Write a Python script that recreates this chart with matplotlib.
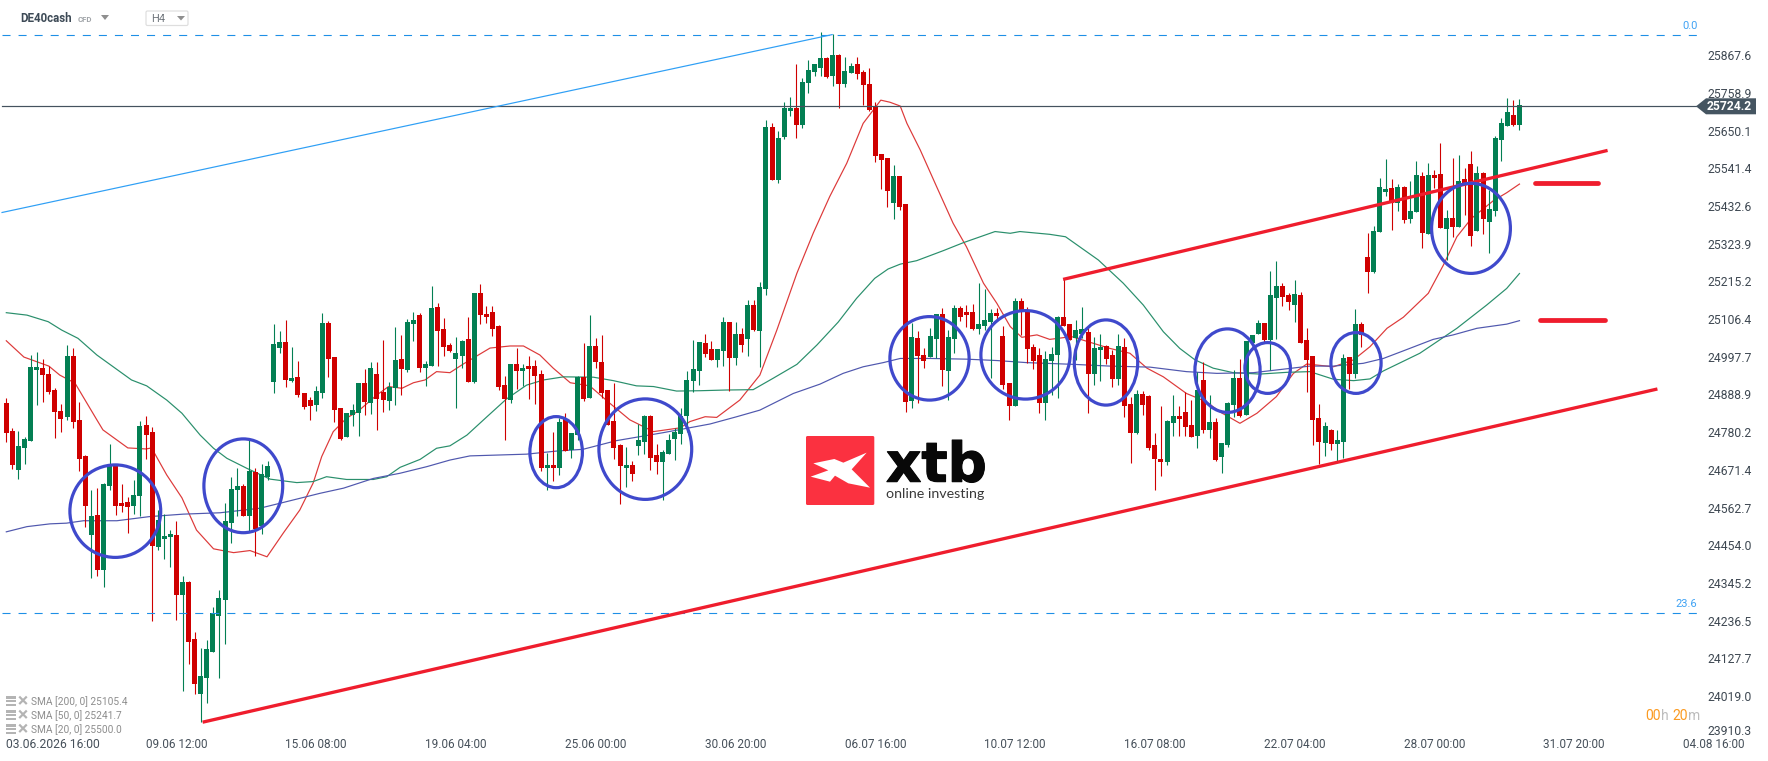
import matplotlib
matplotlib.use("Agg")
import matplotlib.pyplot as plt
import matplotlib.patheffects as pe
from matplotlib.collections import LineCollection
from matplotlib.patches import Ellipse, FancyBboxPatch, Polygon, Rectangle

# Four-hour DE40 candles
highs = [
    24883,24796,24788,24771,25007,25016,24995,24975,24912,24866,
    25036,25027,24872,24719,24618,24624,24638,24750,24693,24635,
    24597,24647,24817,24831,24799,24560,24548,24502,24528,24370,
    24355,24208,24162,24185,24280,24329,24580,24655,24681,24635,
    24762,24681,24693,24701,25096,25076,25108,25030,24990,24898,
    24886,24918,25128,25105,25001,24854,24840,24866,24927,24967,
    24987,24987,25050,24929,25088,25065,25111,25131,25128,24990,
    25206,25157,25114,25042,25059,25050,25117,25186,25212,25148,
    25148,25094,24947,24981,25027,24981,25004,24993,24964,24724,
    24785,24825,24840,24782,24947,25042,25122,25056,25065,24906,
    24926,24750,24742,24701,24808,24834,24834,24750,24733,24779,
    24796,24854,24961,25050,25045,25068,25047,25024,25117,25102,
    25102,25085,25166,25166,25218,25685,25676,25653,25737,25751,
    25846,25806,25858,25846,25938,25866,25933,25875,25866,25849,
    25866,25829,25835,25737,25587,25575,25555,25523,25443,25100,
    25076,25027,25085,25125,25143,25079,25151,25148,25151,25154,
    25215,25197,25140,25143,25091,24926,25171,25171,25146,25039,
    25027,25019,25030,25120,25226,25097,25108,25145,25085,25059,
    25068,25036,25021,25068,25056,24886,24906,24903,24892,24782,
    24860,24820,24892,24860,24900,24877,24958,24987,24892,24825,
    24753,24872,24964,24996,25047,25065,25108,25099,25249,25278,
    25215,25186,25223,25189,25085,25003,24866,24814,24794,24791,
    25010,25001,25140,25102,25359,25379,25518,25572,25515,25500,
    25495,25509,25567,25535,25561,25541,25618,25425,25575,25584,
    25546,25595,25552,25535,25483,25639,25690,25748,25742,25745,
]
body_tops = [
    24869,24788,24745,24765,24973,24973,24970,24952,24906,24846,
    25004,25004,24820,24716,24543,24545,24635,24687,24687,24580,
    24583,24603,24802,24805,24785,24531,24485,24491,24488,24352,
    24352,24188,24081,24159,24263,24306,24528,24620,24629,24629,
    24672,24670,24664,24687,25039,25045,25045,24941,24944,24898,
    24877,24903,25099,25099,25001,24854,24840,24848,24927,24927,
    24970,24952,24900,24915,24993,24996,25102,25108,25122,24981,
    25143,25146,25082,25036,25013,25047,25053,25186,25186,25125,
    25131,25091,24921,24981,24981,24970,24975,24975,24952,24690,
    24690,24814,24823,24782,24944,24944,25033,25033,24987,24906,
    24817,24748,24690,24690,24762,24831,24831,24719,24727,24762,
    24785,24831,24935,24967,25045,25042,25024,25024,25102,25102,
    25068,25068,25151,25151,25203,25665,25665,25633,25719,25719,
    25719,25794,25829,25846,25864,25864,25872,25872,25826,25840,
    25846,25823,25789,25722,25587,25575,25523,25523,25443,25059,
    25056,25007,25062,25125,25125,25059,25143,25143,25131,25131,
    25097,25108,25128,25128,25062,24926,25163,25163,25131,25030,
    25007,24996,25010,25117,25117,25097,25079,25082,25073,25027,
    25030,25033,25007,25033,25030,24866,24895,24895,24889,24748,
    24707,24817,24831,24831,24843,24805,24906,24935,24814,24814,
    24753,24869,24941,24941,25047,25065,25099,25099,25180,25206,
    25206,25180,25183,25180,25050,25003,24825,24802,24791,24762,
    24999,25001,25097,25097,25290,25365,25492,25486,25489,25492,
    25492,25422,25526,25523,25526,25526,25529,25402,25402,25509,
    25515,25558,25532,25532,25428,25633,25676,25708,25699,25728,
]
body_bottoms = [
    24782,24690,24675,24739,24759,24964,24950,24900,24843,24823,
    24828,24814,24707,24572,24488,24387,24387,24629,24572,24572,
    24569,24572,24600,24776,24456,24453,24476,24482,24315,24315,
    24180,24058,24029,24075,24150,24254,24300,24523,24618,24543,
    24543,24505,24514,24655,24929,25027,24935,24932,24892,24857,
    24860,24863,24898,24996,24848,24765,24771,24834,24840,24872,
    24869,24880,24877,24874,24912,24967,24964,25097,24970,24970,
    24975,25076,25030,25019,24996,25004,24929,24929,25122,25117,
    25082,24915,24880,24877,24961,24961,24967,24947,24681,24681,
    24681,24681,24730,24733,24776,24880,24883,24987,24898,24805,
    24739,24687,24681,24664,24745,24756,24710,24699,24699,24722,
    24765,24779,24831,24932,24961,25010,24993,24993,25019,24998,
    24998,25036,25053,25079,25076,25197,25512,25512,25636,25711,
    25670,25670,25791,25823,25835,25809,25812,25789,25789,25820,
    25817,25786,25714,25581,25569,25480,25446,25434,24872,24874,
    25004,24990,25001,25053,24964,24961,25053,25117,25122,25082,
    25082,25091,25102,25120,24921,24860,24860,25137,25024,24990,
    24869,24869,24990,25007,25091,25050,25056,25068,24952,24952,
    25021,24996,24938,24938,24860,24782,24782,24863,24739,24707,
    24699,24699,24811,24823,24799,24771,24774,24791,24791,24704,
    24713,24748,24863,24831,24834,25042,25068,25050,25050,25171,
    25174,25160,25151,25042,24993,24820,24756,24753,24750,24750,
    24756,24952,24952,25065,25247,25247,25362,25477,25446,25446,
    25396,25399,25419,25359,25356,25518,25373,25370,25376,25376,
    25497,25350,25365,25399,25391,25422,25627,25667,25670,25670,
]
lows = [
    24756,24678,24649,24693,24759,24863,24872,24895,24768,24785,
    24820,24796,24672,24511,24364,24370,24338,24618,24545,24554,
    24494,24548,24543,24707,24240,24445,24419,24396,24243,24038,
    24116,24029,23948,24003,24150,24075,24174,24465,24543,24543,
    24500,24427,24491,24647,24898,25013,24915,24929,24886,24851,
    24820,24846,24883,24944,24814,24762,24771,24802,24774,24834,
    24837,24791,24843,24848,24863,24892,24958,25048,24958,24918,
    24975,24975,25004,25016,24854,24970,24929,24927,25097,25100,
    25062,24906,24762,24869,24909,24918,24880,24866,24672,24618,
    24644,24661,24730,24710,24762,24874,24883,24970,24883,24805,
    24707,24577,24626,24644,24719,24722,24675,24664,24589,24722,
    24704,24750,24785,24900,24921,25001,24993,24972,24975,24903,
    24978,25016,25004,25076,24972,25180,25512,25503,25630,25696,
    25633,25662,25763,25812,25812,25806,25783,25719,25780,25820,
    25803,25728,25711,25564,25486,25434,25399,25425,24843,24854,
    24869,24970,25001,24998,24918,24877,25013,25105,25088,25079,
    25068,25079,24941,25108,24909,24820,24860,25065,24984,24967,
    24840,24820,24892,24883,25091,25050,24993,25056,24840,24921,
    24932,24981,24915,24921,24828,24696,24779,24834,24733,24618,
    24658,24690,24774,24774,24774,24771,24739,24782,24768,24701,
    24667,24742,24828,24828,24834,25042,25068,25045,24964,25053,
    25148,25137,25102,25042,24900,24748,24693,24716,24733,24701,
    24710,24909,24941,25030,25186,25244,25362,25466,25368,25422,
    25388,25388,25419,25316,25356,25489,25373,25281,25347,25376,
    25411,25321,25365,25356,25301,25408,25566,25667,25667,25656,
]
# g = rising candle, r = falling candle
candle_sides = (
    "rrggggrrrr" "grrrgrggrr" "rggrrgggrg" "rrgggggggr" "grggggrgrr"
    "rggrrrgggr" "grrggrggrg" "grrrggrgrr" "rrrgrgrrrg" "rgrggrgrrr"
    "rrgrggrrgg" "gggggrrggr" "grgrggrggg" "rggggrgrgg" "rrrrrrgrrg"
    "rrggrggrrr" "gggrrrgrrr" "rgggrrggrg" "grrgrrgrrr" "rggrrrgrgr"
    "gggrgggrgg" "rrgrrrrgrg" "grgrrgggrg" "rggrgrrgrg" "rrgrggggrg"
)

# Moving averages, sampled at bar positions
sma20_bars = [
    0,2.9,7,8.8,11.3,14.9,15.9,20,23,23.9,26.4,28.9,31.3,34.1,37.4,40.1,42.9,45.6,48.3,50.5,
    51.9,53.8,56,57.9,61,62.9,65.1,67,68.9,70.8,73,75.2,77.4,79.6,82.9,85.1,87.8,90,92.8,96,
    99.3,102.6,106.5,110.9,112.5,115,116.9,120.7,124,126.8,130.1,132.8,135.5,138.3,141,143.9,
    145.4,147.1,148.2,150.4,153.1,155.8,158,160.8,163,165.2,167.1,169.6,171.7,175.3,181.6,
    184.9,187.7,190.4,194.2,197.5,199.7,203,205.8,209,211.8,214,218.4,221.7,224.4,227.2,229.9,
    234,236.5,238.7,241.1,244.7,246.9,249,
]
sma20_values = [
    25048,25001,24975,24949,24926,24820,24791,24739,24736,24739,24661,24595,24502,24448,24437,
    24443,24425,24494,24560,24638,24714,24786,24825,24845,24892,24916,24911,24927,24935,24959,
    24956,24981,25004,25027,25033,25033,25007,24969,24927,24918,24868,24820,24786,24797,24815,
    24829,24827,24877,24949,25079,25243,25359,25464,25560,25675,25742,25736,25725,25675,25598,
    25492,25387,25319,25214,25156,25089,25058,25065,25052,25060,25026,25012,24969,24944,24896,
    24872,24843,24810,24839,24887,24954,24981,24973,24993,25031,25084,25116,25185,25267,25348,
    25401,25452,25475,25500,
]
sma50_bars = [
    0,3.4,6.9,9.1,11.8,14.9,20.6,23.1,26.4,28.9,31.9,34.1,36.3,39.6,43.4,47.8,50.5,52.7,56,60.4,
    62.6,64.8,68.1,70.8,73,75.8,79.1,82.3,85.6,88.4,91.7,96.6,99.9,103.7,106.5,110.3,114.2,118.5,
    122.9,126.2,130.1,133.4,136.9,139.9,142.9,145.1,147.1,149.8,154.2,157.5,162.7,165.2,166.8,
    171.7,174.3,179.7,183.8,187.1,190.4,193.1,195.6,198.6,201.9,206.3,210.7,214.5,218.4,221.7,
    224.4,226.6,232.6,235.4,238.7,243.6,246.9,249,
]
sma50_values = [
    25129,25122,25103,25079,25055,25007,24935,24918,24877,24839,24776,24738,24709,24680,24649,
    24639,24642,24656,24648,24648,24656,24683,24706,24738,24745,24776,24829,24880,24920,24935,
    24944,24943,24933,24918,24916,24903,24904,24906,24907,24940,24980,25036,25102,25170,25228,
    25255,25269,25279,25308,25331,25363,25358,25363,25355,25348,25281,25214,25151,25074,25026,
    24993,24969,24956,24952,24957,24959,24937,24933,24938,24961,25012,25045,25084,25151,25199,
    25242,
]
sma200_bars = [
    0,3.4,7.2,9.9,12.7,18.2,23.6,29.1,35.2,41.7,46.1,51.6,55.5,60.4,64.8,69.2,73,76.3,85.6,90.6,
    94.9,100.4,108.1,115.8,120.2,124,129.5,133.9,137.7,141,144.3,147.1,152,158,163,167.9,175.6,
    181.6,188.2,194.2,199.2,205.2,210.1,214.5,218.4,223.3,226.6,229.9,234.8,238.1,242,246.9,249,
]
sma200_values = [
    24497,24512,24520,24522,24529,24529,24541,24548,24552,24565,24584,24608,24623,24651,24666,
    24685,24704,24716,24721,24730,24735,24760,24783,24808,24829,24848,24896,24923,24954,24973,
    24985,24997,24997,24995,24991,24985,24980,24975,24972,24959,24954,24956,24966,24975,24975,
    24983,24997,25019,25052,25065,25084,25096,25106,
]

# Trend lines: (bar, price) end points
blue_trend_bars = [-0.7, 135.9]
blue_trend_prices = [25418, 25931]
lower_channel_bars = [32.3, 271.7]
lower_channel_prices = [23948, 24909]
upper_channel_bars = [173.9, 263.5]
upper_channel_prices = [25225, 25597]
level_marks = [(251.6, 261.9, 25502), (252.3, 263.0, 25107)]

# Fibonacci retracement levels
fib_prices = [25929, 24262]
fib_names = ["0.0", "23.6"]
last_price = 25724.2

price_ticks = [25867.6, 25758.9, 25650.1, 25541.4, 25432.6, 25323.9, 25215.2,
               25106.4, 24997.7, 24888.9, 24780.2, 24671.4, 24562.7, 24454.0,
               24345.2, 24236.5, 24127.7, 24019.0, 23910.3]
time_tick_bars = [28, 51, 74, 97, 120, 143, 166, 189, 212, 235, 258, 281]
time_tick_names = ["09.06 12:00", "15.06 08:00", "19.06 04:00", "25.06 00:00",
                   "30.06 20:00", "06.07 16:00", "10.07 12:00", "16.07 08:00",
                   "22.07 04:00", "28.07 00:00", "31.07 20:00", "04.08 16:00"]
first_time_name = "03.06.2026 16:00"
legend_names = ["SMA [200, 0] 25105.4", "SMA [50, 0] 25241.7", "SMA [20, 0] 25500.0"]

# Hand-drawn circles: left, right, top, bottom outer bounds in screen pixels
circle_bounds = [
    (68.3, 162.3, 463.3, 559), (202.3, 284.3, 437.3, 534.3), (528.3, 584, 415, 489.3),
    (597.3, 693.3, 397.3, 501), (888.3, 970.7, 315, 401.7), (979.3, 1071.7, 309, 400.7),
    (1072.7, 1139.3, 318.3, 406.7), (1193.3, 1261.7, 327.3, 414), (1243.3, 1292, 341, 395),
    (1329.3, 1382.7, 331, 395), (1430, 1512, 181.7, 275),
]

plt.rcParams["font.family"] = ["Roboto", "DejaVu Sans"]
GREEN = "#037f53"
RED = "#cf0000"
PX = 0.72  # one screen pixel in points at 100 dpi
BAR_STEP = 6.077
FIRST_BAR_X = 6.3

fig = plt.figure(figsize=(17.68, 7.61), dpi=100, facecolor="white")

# Price chart: bars on x, price on y, spanning the whole canvas
ax = fig.add_axes([0, 0, 1, 1], facecolor="none")
ax.set_xlim(-FIRST_BAR_X / BAR_STEP, (1768 - FIRST_BAR_X) / BAR_STEP)
ax.set_ylim(26030.8 - 2.884 * 761, 26030.8)
ax.axis("off")

# Screen-pixel layer for the toolbar, logo and free-hand annotations
ui = fig.add_axes([0, 0, 1, 1], facecolor="none")
ui.set_xlim(0, 1768)
ui.set_ylim(761, 0)
ui.axis("off")

# Moving averages sit below the candles
ax.plot(sma20_bars, sma20_values, color="#dd3a3a", lw=1.2 * PX, zorder=2)
ax.plot(sma50_bars, sma50_values, color="#2a8f6c", lw=1.2 * PX, zorder=2)
ax.plot(sma200_bars, sma200_values, color="#5058ae", lw=1.2 * PX, zorder=2)

# Candles
bars = range(len(highs))
colors = [GREEN if s == "g" else RED for s in candle_sides]
wicks = LineCollection([[(i, lows[i]), (i, highs[i])] for i in bars],
                       colors=colors, linewidths=1.1 * PX, zorder=3)
ax.add_collection(wicks)
ax.bar(list(bars), [t - b for t, b in zip(body_tops, body_bottoms)], bottom=body_bottoms,
       width=5 / BAR_STEP, color=colors, linewidth=0, zorder=3)

# Fibonacci levels and the last-price line
for price in fib_prices:
    ax.plot([-0.7, 278.6], [price, price], color="#1e8fe6", lw=PX * 1.1,
            ls=(0, (7.3, 7.3)), zorder=4)
ax.text(278.3, fib_prices[0] + 26, fib_names[0], color="#3fa2f4", fontsize=8, ha="right", va="center", zorder=6)
ax.text(278.3, fib_prices[1] + 26, fib_names[1], color="#3fa2f4", fontsize=8, ha="right", va="center", zorder=6)
ax.plot([-0.7, 278], [last_price, last_price], color="#44525e", lw=PX * 1.2, zorder=4)

# Trend lines and level marks
ax.plot(blue_trend_bars, blue_trend_prices, color="#2f9ff5", lw=PX * 1.2, zorder=4)
ax.plot(lower_channel_bars, lower_channel_prices, color="#ef1d2d", lw=PX * 3.3, zorder=5, solid_capstyle="butt")
ax.plot(upper_channel_bars, upper_channel_prices, color="#ef1d2d", lw=PX * 3.3, zorder=5, solid_capstyle="butt")
for start, end, price in level_marks:
    ax.plot([start, end], [price, price], color="#ef1d2d", lw=PX * 4.8, solid_capstyle="round", zorder=5)

# Free-hand circles
for left, right, top, bottom in circle_bounds:
    ui.add_patch(Ellipse(((left + right) / 2, (top + bottom) / 2), right - left - 3.2, bottom - top - 3.2,
                         fill=False, ec="#3f49cc", lw=PX * 3.2, zorder=6))

# Price axis labels
for tick in price_ticks:
    offset = 3.6 if tick == price_ticks[-1] else 0
    ax.annotate(f"{tick:.1f}", (1, tick), xycoords=("axes fraction", "data"),
                xytext=(-(1768 - 1752) * PX, offset * PX), textcoords="offset points",
                ha="right", va="center", fontsize=8.7, color="#3e4852", zorder=6)

# Last-price tag
ui.add_patch(Polygon([(1696, 106.3), (1706, 98.3), (1756, 98.3), (1756, 114.3), (1706, 114.3)],
                     closed=True, fc="#455561", ec="none", zorder=7))
ui.text(1752, 106.6, f"{last_price:.1f}", color="white", fontsize=8.7, weight="bold",
        ha="right", va="center", zorder=8)

# Time axis labels
ui.text(6, 744.5, first_time_name, color="#46505a", fontsize=8.7, ha="left", va="center")
for bar, name in zip(time_tick_bars, time_tick_names):
    ax.annotate(name, (bar, 0), xycoords=("data", "axes fraction"), xytext=(0, (761 - 744.5) * PX),
                textcoords="offset points", ha="center", va="center", fontsize=8.5, color="#46505a")

# Toolbar
ui.text(20, 18.6, "DE40cash", color="#3d4a56", fontsize=8.3, weight="bold", ha="left", va="center")
ui.text(78, 19.3, "CFD", color="#a0a4a8", fontsize=5.6, weight="bold", ha="left", va="center")
ui.add_patch(Polygon([(101, 15), (109, 15), (105, 20)], closed=True, fc="#8f8f8f", ec="none"))
ui.add_patch(FancyBboxPatch((146, 11), 42, 14.5, boxstyle="round,pad=0,rounding_size=1.5",
                            fc="white", ec="#dedede", lw=PX * 1.2))
ui.text(151, 19.5, "H4", color="#70767c", fontsize=8, ha="left", va="center")
ui.add_patch(Polygon([(177, 16), (185, 16), (181, 20.5)], closed=True, fc="#8f8f8f", ec="none"))

# Indicator legend
for row, name in enumerate(legend_names):
    y = 701.3 + 14 * row
    for k, shade in enumerate((-4, 0, 3.4)):
        ui.add_patch(Rectangle((6, y + shade - 1), 10, 2.2 if k != 1 else 1.6, fc="#b4b4b4", ec="none"))
    ui.plot([20, 26], [y - 4, y + 2], color="#b4b4b4", lw=PX * 2.2)
    ui.plot([20, 26], [y + 2, y - 4], color="#b4b4b4", lw=PX * 2.2)
    ui.text(31, y, name, color="#8d8d8d", fontsize=7.25, ha="left", va="center")

# Candle countdown
timer_parts = [("00", "#fb9a20", 1645), ("h", "#bdbdbd", 1661), ("20", "#fb9a20", 1672), ("m", "#bdbdbd", 1688)]
for part, shade, x in timer_parts:
    ui.text(x, 716, part, color=shade, fontsize=10, ha="left", va="center")

# Broker logo
ui.add_patch(FancyBboxPatch((806, 436), 68.3, 69, boxstyle="round,pad=0,rounding_size=1.5",
                            fc="#fb3140", ec="none", zorder=1))
logo_mark = [(55, 115), (118, 102), (145, 113), (215, 83), (170, 133), (225, 188),
             (160, 175), (120, 152), (105, 170), (47, 155), (100, 136)]
ui.add_patch(Polygon([(795 + a / 3, 425 + b / 3) for a, b in logo_mark], closed=True,
                     fc="white", ec="none", zorder=1.5))
ui.text(886, 481.7, "xtb", color="#080808", fontsize=39.5, weight="bold", ha="left", va="baseline", zorder=1,
        family=["DejaVu Sans"], path_effects=[pe.withStroke(linewidth=0.8, foreground="#080808")])
ui.text(886.5, 494, "online investing", color="#3a3a3a", fontsize=10.3, family=["Lato", "DejaVu Sans"],
        ha="left", va="center", zorder=1)

fig.savefig("out.png", dpi=100, facecolor="white")
